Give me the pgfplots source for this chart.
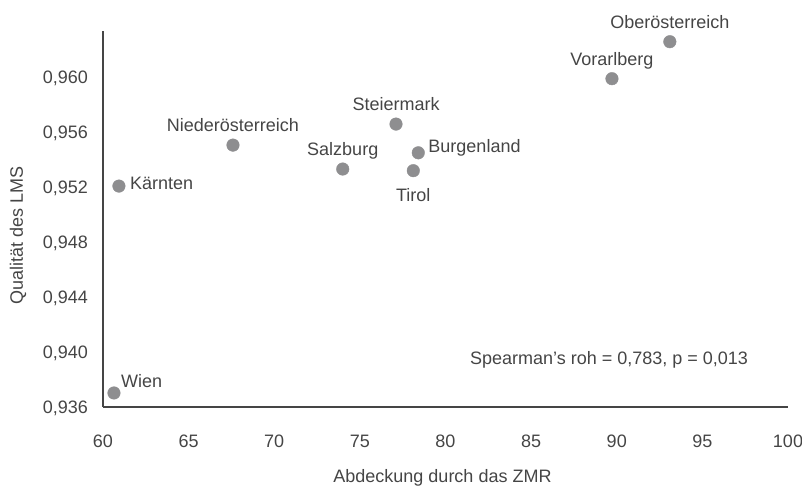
\documentclass[border=0pt]{standalone}
\usepackage{pgfplots}
\pgfplotsset{compat=1.18}
\usepackage{fontspec}
\setmainfont{Liberation Sans}
\definecolor{txt}{HTML}{454545}
\definecolor{dotc}{HTML}{8E8E90}
\begin{document}
\fontsize{18bp}{21bp}\selectfont
\begin{tikzpicture}
\begin{axis}[name=ax, at={(0,0)}, anchor=south west,
  scale only axis, width=685bp, height=376bp,
  xmin=60, xmax=100, ymin=0.936, ymax=0.96335,
  clip=false,
  axis x line*=bottom, axis y line*=left,
  axis line style={draw=txt, line width=1.3bp, -},
  major tick length=0pt,
  xtick={60,65,...,100},
  ytick={0.936,0.940,0.944,0.948,0.952,0.956,0.960},
  /pgf/number format/assume math mode=true,
  /pgf/number format/1000 sep={},
  yticklabel style={/pgf/number format/use comma, /pgf/number format/fixed, /pgf/number format/fixed zerofill, /pgf/number format/precision=3},
  ticklabel style={text=txt, font=\fontsize{18bp}{21bp}\selectfont, inner sep=0pt},
  xticklabel style={anchor=base, yshift=-40.3bp},
  yticklabel style={anchor=base east, xshift=-15bp, yshift=-6.4bp},
  xlabel={Abdeckung durch das ZMR},
  ylabel={Qualität des LMS},
  label style={text=txt, font=\fontsize{18bp}{21bp}\selectfont, inner sep=0pt},
  xlabel style={at={(rel axis cs:0.5,0)}, anchor=base, yshift=-75.5bp, xshift=-3bp},
  ylabel style={at={(rel axis cs:0,0.457)}, anchor=center, yshift=85bp},
]
% labels above
\addplot[only marks, mark=*, mark size=6.3bp, color=dotc,
  point meta=explicit symbolic, nodes near coords,
  every node near coord/.append style={anchor=base, yshift=13.5bp, inner sep=0pt, text=txt, font=\fontsize{18bp}{21bp}\selectfont}]
  table[meta=label] {
x y label
93.10 0.96257 Oberösterreich
89.72 0.95988 Vorarlberg
77.11 0.95658 Steiermark
67.59 0.95505 Niederösterreich
74.00 0.95331 Salzburg
};
% label below
\addplot[only marks, mark=*, mark size=6.3bp, color=dotc,
  point meta=explicit symbolic, nodes near coords,
  every node near coord/.append style={anchor=base, yshift=-31bp, inner sep=0pt, text=txt, font=\fontsize{18bp}{21bp}\selectfont}]
  table[meta=label] {
x y label
78.12 0.95319 Tirol
};
% labels right
\addplot[only marks, mark=*, mark size=6.3bp, color=dotc,
  point meta=explicit symbolic, nodes near coords,
  every node near coord/.append style={anchor=base west, xshift=10bp, yshift=0bp, inner sep=0pt, text=txt, font=\fontsize{18bp}{21bp}\selectfont}]
  table[meta=label] {
x y label
78.41 0.95449 Burgenland
};
\addplot[only marks, mark=*, mark size=6.3bp, color=dotc,
  point meta=explicit symbolic, nodes near coords,
  every node near coord/.append style={anchor=base west, xshift=11bp, yshift=-3bp, inner sep=0pt, text=txt, font=\fontsize{18bp}{21bp}\selectfont}]
  table[meta=label] {
x y label
60.93 0.95207 Kärnten
};
\addplot[only marks, mark=*, mark size=6.3bp, color=dotc,
  point meta=explicit symbolic, nodes near coords,
  every node near coord/.append style={anchor=base west, xshift=7bp, yshift=5bp, inner sep=0pt, text=txt, font=\fontsize{18bp}{21bp}\selectfont}]
  table[meta=label] {
x y label
60.64 0.93702 Wien
};
\node[anchor=base west, inner sep=0pt, text=txt, font=\fontsize{18bp}{21bp}\selectfont] at (axis cs:81.43,0.93909) {Spearman’s roh = 0,783, p = 0,013};
\end{axis}
\pgfresetboundingbox
\path[use as bounding box] ([shift={(-103bp,-82bp)}]ax.south west) rectangle ([shift={(14bp,31bp)}]ax.north east);
\end{tikzpicture}
\end{document}
